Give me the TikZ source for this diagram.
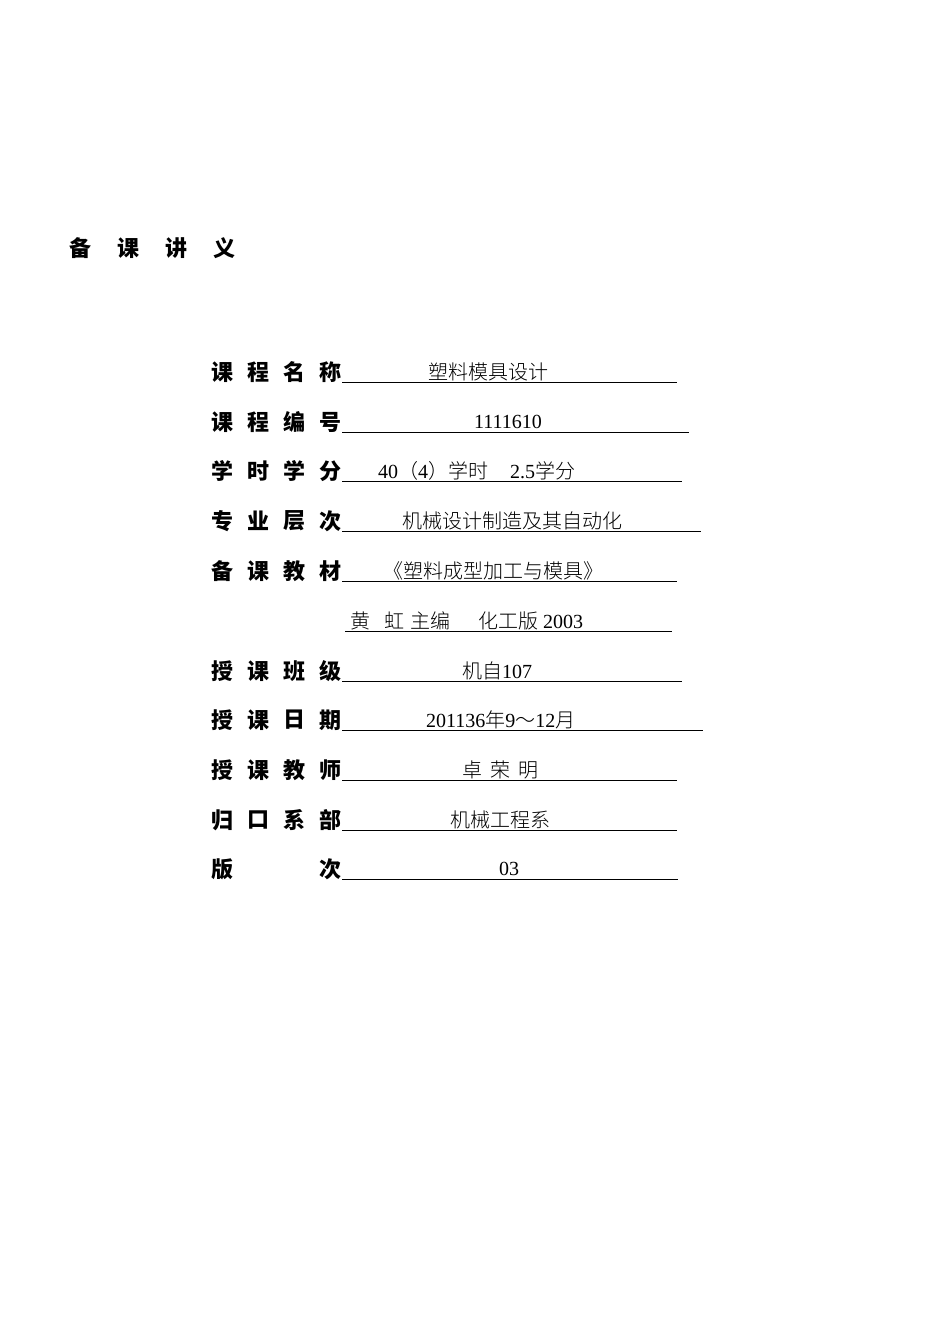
\documentclass[tikz,border=0pt]{standalone}
\usepackage{fontspec}
\setmainfont{Liberation Serif}
\newfontfamily\cjk{Noto Sans CJK SC}
\newfontfamily\cjkl{Noto Sans CJK SC Light}
\begin{document}
\begin{tikzpicture}[x=1pt,y=-1pt,
  lab/.style={inner sep=0pt,font=\cjk\bfseries\fontsize{22}{22}\selectfont},
  val/.style={inner sep=0pt,anchor=west,font=\fontsize{20}{20}\selectfont}]
\useasboundingbox[fill=white] (0,0) rectangle (950,1344);
\foreach \c [count=\i] in {备,课,讲,义} \node[lab] (t\i) at (32+48*\i,248) {\c};
\foreach \y/\a/\b/\c/\d/\e/\vx/\v in {
 372/课/程/名/称/677/428/{\cjkl 塑料模具设计},
 422/课/程/编/号/689/474/{1111610},
 471/学/时/学/分/682/378/{40{\cjkl （}4{\cjkl ）学时}\hspace{22pt}2.5{\cjkl 学分}},
 521/专/业/层/次/701/402/{\cjkl 机械设计制造及其自动化},
 571/备/课/教/材/677/383/{\cjkl 《塑料成型加工与模具》},
 671/授/课/班/级/682/462/{{\cjkl 机自}107},
 720/授/课/日/期/703/426/{201136{\cjkl 年}9{\cjkl ～}12{\cjkl 月}},
 770/授/课/教/师/677/462/{\cjkl 卓\hspace{8pt}荣\hspace{8pt}明},
 820/归/口/系/部/677/450/{\cjkl 机械工程系}}{
 \node[lab] at (222,\y) {\a};\node[lab] at (258,\y) {\b};
 \node[lab] at (294,\y) {\c};\node[lab] at (330,\y) {\d};
 \node[val] at (\vx,\y) {\v};
 \draw[line width=1pt] (342,\y+10) -- (\e,\y+10);
}
\node[lab] at (222,869) {版};\node[lab] at (330,869) {次};
\node[val] at (499,869) {03};
\draw[line width=1pt] (342,879) -- (678,879);
\node[val] at (350,621) {{\cjkl 黄\hspace{14pt}虹\hspace{6pt}主编}\hspace{28pt}{\cjkl 化工版} 2003};
\draw[line width=1pt] (345,631) -- (672,631);
\end{tikzpicture}
\end{document}
